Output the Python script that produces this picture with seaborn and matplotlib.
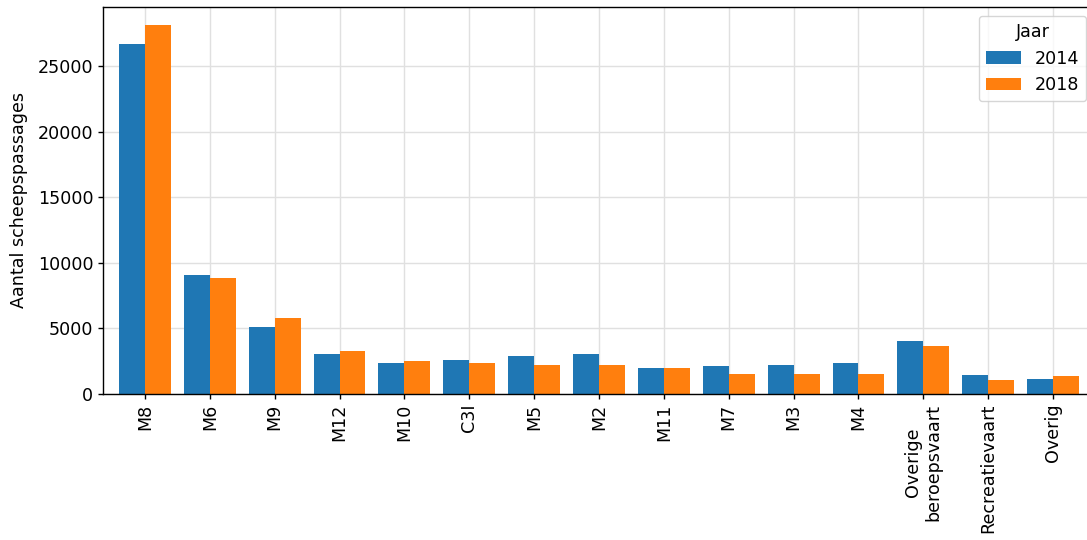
import matplotlib
matplotlib.use("Agg")
import matplotlib.pyplot as plt
import seaborn as sns
import pandas as pd

categories = ["M8", "M6", "M9", "M12", "M10", "C3I", "M5", "M2", "M11", "M7",
              "M3", "M4", "Overige\nberoepsvaart", "Recreatievaart", "Overig"]
values_2014 = [26750, 9100, 5120, 3060, 2370, 2560, 2870, 3020, 2020, 2100,
               2250, 2330, 4020, 1480, 1180]
values_2018 = [28130, 8870, 5810, 3290, 2490, 2330, 2180, 2180, 2020, 1560,
               1560, 1560, 3640, 1100, 1410]
years = ["2014", "2018"]
colors = ["#1f77b4", "#ff7f0e"]

df = pd.DataFrame({
    "cat": categories * 2,
    "val": values_2014 + values_2018,
    "Jaar": [years[0]] * len(categories) + [years[1]] * len(categories),
})

plt.rcParams["font.family"] = ["DejaVu Sans"]
FS = 12.6

fig = plt.figure(figsize=(10.87, 5.40), dpi=100)
ax = fig.add_axes([103 / 1087, 1 - 394 / 540, (1095 - 103) / 1087, (394 - 7) / 540])

sns.barplot(data=df, x="cat", y="val", hue="Jaar", palette=colors,
            saturation=1, width=0.8, ax=ax, order=categories, hue_order=years,
            linewidth=0, edgecolor="none")

ax.set_xlim(-0.647, 14.647)
ax.set_xlabel("")
ax.set_ylabel("Aantal scheepspassages", fontsize=FS, labelpad=7)
ax.tick_params(axis="x", labelrotation=90, labelsize=FS, length=3.5, width=1, color="black")
ax.tick_params(axis="y", labelsize=FS, length=3.5, width=1, color="black")
ax.grid(True, color="#e0e0e0", linewidth=1)
ax.set_axisbelow(True)
for s in ax.spines.values():
    s.set_color("black")
    s.set_linewidth(1)

leg = ax.legend(title="Jaar", loc="upper right", fontsize=FS, title_fontsize=FS)

fig.savefig("out.png", dpi=100)
